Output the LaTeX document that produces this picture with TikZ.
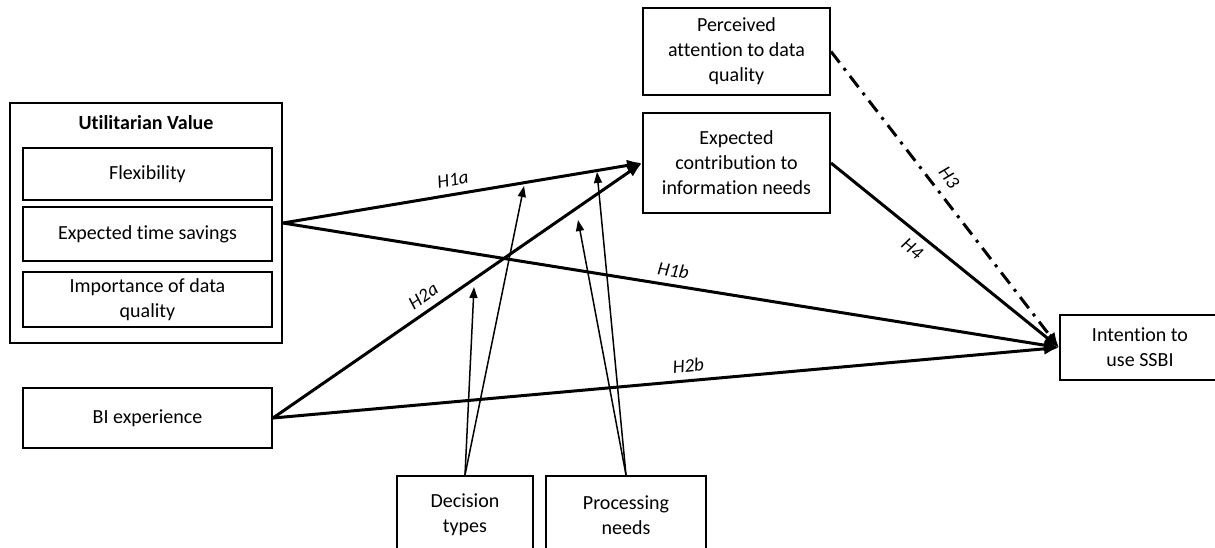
\documentclass[tikz,border=0pt]{standalone}
\usepackage{fontspec}
\setmainfont{Carlito}[Ligatures=CommonOff]
\usetikzlibrary{arrows.meta}
\begin{document}
\begin{tikzpicture}[x=1pt,y=-1pt,
  box/.style={draw, line width=2pt, align=center, inner sep=0pt,
    font=\fontsize{20}{25}\selectfont},
  path arrow/.style={line width=3pt, -{Latex[length=15pt,width=12pt]}},
  dashdot arrow/.style={path arrow, dash pattern=on 14pt off 7pt on 3pt off 7pt},
  mod arrow/.style={line width=1.5pt, -{Triangle[length=11pt,width=8pt]}},
  hyp/.style={font=\fontsize{19}{22}\selectfont\itshape, sloped, inner sep=3pt}]
\useasboundingbox (0,0) rectangle (1215,547);

% Utilitarian value construct with its three facets
\node[box, minimum width=272pt, minimum height=240pt] (uv) at (146,223) {};
\node[font=\fontsize{20}{25}\selectfont\bfseries] (uvtitle) at (146,123) {Utilitarian Value};
\node[box, minimum width=249pt, minimum height=52pt] (flex) at (147.5,174) {Flexibility};
\node[box, minimum width=249pt, minimum height=54pt] (ets) at (147.5,234) {Expected time savings};
\node[box, minimum width=249pt, minimum height=55pt] (idq) at (147.5,299.5) {Importance of data\\quality};

% Other constructs
\node[box, minimum width=249pt, minimum height=60pt] (bi) at (147.5,418) {BI experience};
\node[box, minimum width=187pt, minimum height=87pt] (pa) at (736.5,51.5) {Perceived\\attention to data\\quality};
\node[box, minimum width=187pt, minimum height=100pt] (ec) at (736.5,163) {Expected\\contribution to\\information needs};
\node[box, minimum width=160pt, minimum height=65pt] (int) at (1140,347.5) {Intention to\\use SSBI};

% Moderators
\node[box, minimum width=136pt, minimum height=78pt] (dt) at (465,515) {Decision\\types};
\node[box, minimum width=160pt, minimum height=78pt] (pn) at (626,515) {Processing\\needs};

% Hypothesised paths
\draw[path arrow] (uv.east) -- node[hyp, above=4pt, pos=0.48] {H1a} (ec.west);
\draw[path arrow] (uv.east) -- node[hyp, above=4pt, pos=0.5] {H1b} (int.west);
\draw[path arrow] (bi.east) -- node[hyp, above=4pt, pos=0.43] {H2a} (ec.west);
\draw[path arrow] (bi.east) -- node[hyp, above=4pt, pos=0.53] {H2b} (int.west);
\draw[path arrow] (ec.east) -- node[hyp, below=5pt, pos=0.4] {H4} (int.west);
\draw[dashdot arrow] (pa.east) -- node[hyp, above=6pt, pos=0.46] {H3} (int.west);

% Moderating effects
\coordinate (dt1) at (524,186);
\coordinate (dt2) at (474,287);
\coordinate (pn1) at (597,172);
\coordinate (pn2) at (578,220);
\draw[mod arrow] (dt.north) -- (dt1);
\draw[mod arrow] (dt.north) -- (dt2);
\draw[mod arrow] (pn.north) -- (pn1);
\draw[mod arrow] (pn.north) -- (pn2);
\end{tikzpicture}
\end{document}
